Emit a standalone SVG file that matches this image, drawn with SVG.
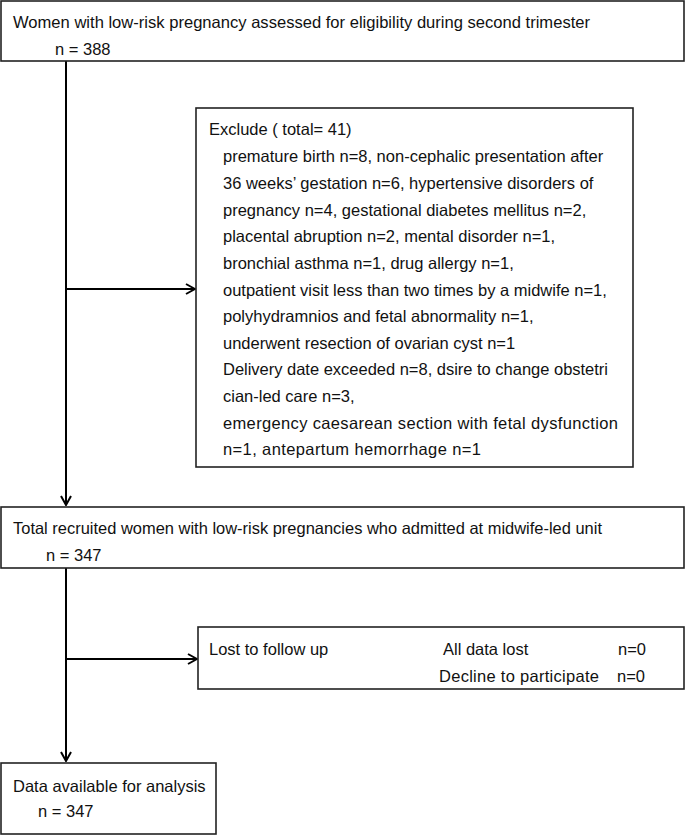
<svg xmlns="http://www.w3.org/2000/svg" width="685" height="835" viewBox="0 0 685 835">
<defs>
<style>
.box{fill:#fff;stroke:#222;stroke-width:1.6}
.t{font-family:"Liberation Sans",Arial,sans-serif;font-size:16.5px;fill:#111}
.c{stroke:#000;stroke-width:2;fill:none}
</style>
<marker id="ah" markerWidth="12" markerHeight="12" viewBox="0 0 12 12" refX="11" refY="6" orient="auto" markerUnits="userSpaceOnUse">
<polyline points="2,1 11,6 2,11" fill="none" stroke="#000" stroke-width="2"/>
</marker>
</defs>
<g id="connectors">
<line class="c" x1="66" y1="61" x2="66" y2="505" marker-end="url(#ah)"/>
<line class="c" x1="66" y1="289" x2="195" y2="289" marker-end="url(#ah)"/>
<line class="c" x1="66" y1="568" x2="66" y2="761" marker-end="url(#ah)"/>
<line class="c" x1="66" y1="659" x2="197" y2="659" marker-end="url(#ah)"/>
</g>
<g id="assessed">
<rect class="box" x="1" y="1" width="683" height="60"/>
<text class="t" x="13" y="28" textLength="577" lengthAdjust="spacingAndGlyphs">Women with low-risk pregnancy assessed for eligibility  during  second trimester</text>
<text class="t" x="55" y="55">n = 388</text>
</g>
<g id="exclude">
<rect class="box" x="196" y="108" width="437" height="359"/>
<text class="t" x="209" y="135">Exclude ( total= 41)</text>
<text class="t" x="223" y="162">premature birth n=8, non-cephalic presentation after</text>
<text class="t" x="223" y="189">36 weeks’ gestation n=6, hypertensive disorders of</text>
<text class="t" x="223" y="216">pregnancy n=4, gestational diabetes mellitus n=2,</text>
<text class="t" x="223" y="242">placental abruption n=2, mental disorder n=1,</text>
<text class="t" x="223" y="269">bronchial asthma n=1, drug allergy  n=1,</text>
<text class="t" x="223" y="296">outpatient  visit less than two times by a midwife n=1,</text>
<text class="t" x="223" y="322">polyhydramnios and fetal abnormality n=1,</text>
<text class="t" x="223" y="349">underwent resection of ovarian cyst n=1</text>
<text class="t" x="223" y="375" textLength="385" lengthAdjust="spacing">Delivery date exceeded n=8, dsire to change obstetri</text>
<text class="t" x="223" y="402">cian-led  care  n=3,</text>
<text class="t" x="223" y="429" textLength="395" lengthAdjust="spacing">emergency caesarean section with fetal dysfunction</text>
<text class="t" x="223" y="455" textLength="258" lengthAdjust="spacing">n=1, antepartum hemorrhage n=1</text>
</g>
<g id="recruited">
<rect class="box" x="1" y="507" width="683" height="61"/>
<text class="t" x="13" y="534" textLength="589" lengthAdjust="spacingAndGlyphs">Total recruited women with low-risk pregnancies who admitted at midwife-led unit</text>
<text class="t" x="46" y="561">n = 347</text>
</g>
<g id="lost">
<rect class="box" x="198" y="627" width="486" height="62"/>
<text class="t" x="209" y="655">Lost to follow up</text>
<text class="t" x="443" y="655">All data lost</text>
<text class="t" x="618" y="655">n=0</text>
<text class="t" x="439" y="682" textLength="160" lengthAdjust="spacing">Decline to participate</text>
<text class="t" x="617" y="682">n=0</text>
</g>
<g id="analysis">
<rect class="box" x="1" y="763" width="215" height="71"/>
<text class="t" x="13" y="792">Data available for analysis</text>
<text class="t" x="38" y="817">n = 347</text>
</g>
</svg>
